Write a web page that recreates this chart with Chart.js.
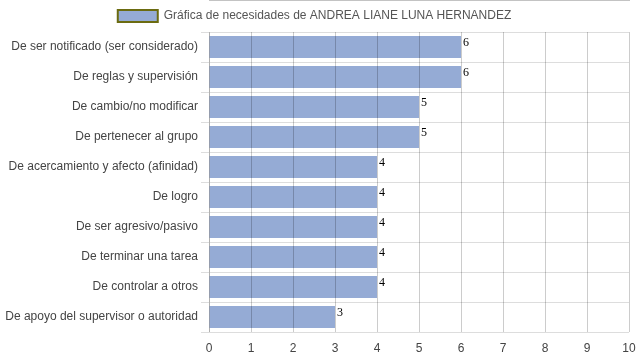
<!DOCTYPE html>
<html>
<head>
<meta charset="utf-8">
<script src="https://cdn.jsdelivr.net/npm/chart.js@4.4.1/dist/chart.umd.min.js"></script>
<style>
  html, body { margin: 0; padding: 0; background: #fff; }
  #wrap { width: 639px; height: 360px; }
</style>
</head>
<body>
<div id="wrap"><canvas id="chart"></canvas></div>
<script>
const categorias = [
  'De ser notificado (ser considerado)',
  'De reglas y supervisión',
  'De cambio/no modificar',
  'De pertenecer al grupo',
  'De acercamiento y afecto (afinidad)',
  'De logro',
  'De ser agresivo/pasivo',
  'De terminar una tarea',
  'De controlar a otros',
  'De apoyo del supervisor o autoridad'
];
const valores = [6, 6, 5, 5, 4, 4, 4, 4, 4, 3];
const ticksX = [0, 1, 2, 3, 4, 5, 6, 7, 8, 9, 10];
const tituloSerie = 'Gráfica de necesidades de ANDREA LIANE LUNA HERNANDEZ';

// etiquetas de valor al final de cada barra
const etiquetas = {
  id: 'etiquetas',
  afterDatasetsDraw(chart) {
    const ctx = chart.ctx;
    const meta = chart.getDatasetMeta(0);
    ctx.save();
    ctx.font = '12px "Liberation Serif", "Times New Roman", serif';
    ctx.fillStyle = '#000';
    ctx.textAlign = 'left';
    ctx.textBaseline = 'top';
    meta.data.forEach((bar, i) => {
      const top = bar.y - bar.height / 2;
      ctx.fillText(String(valores[i]), bar.x + 2, top + 1);
    });
    ctx.restore();
  }
};

new Chart(document.getElementById('chart'), {
  type: 'bar',
  data: {
    labels: categorias,
    datasets: [{
      label: tituloSerie,
      data: valores,
      backgroundColor: '#95abd5',
      borderWidth: 0,
      barPercentage: 0.74,
      categoryPercentage: 1
    }]
  },
  options: {
    indexAxis: 'y',
    responsive: true,
    maintainAspectRatio: false,
    animation: false,
    layout: { padding: { left: 0, right: 10, top: 0, bottom: 0 } },
    plugins: {
      legend: {
        display: true,
        position: 'top',
        labels: {
          boxWidth: 40,
          boxHeight: 12,
          color: '#555',
          font: { family: '"Liberation Sans", Arial, sans-serif', size: 12 },
          padding: 10,
          generateLabels() {
            return [{
              text: tituloSerie,
              fillStyle: '#95abd5',
              strokeStyle: '#6b6b10',
              lineWidth: 2,
              fontColor: '#555',
              datasetIndex: 0
            }];
          }
        }
      },
      tooltip: { enabled: false }
    },
    scales: {
      x: {
        min: 0,
        max: 10,
        afterBuildTicks(scale) { scale.ticks = ticksX.map(v => ({ value: v })); },
        afterFit(scale) {
          scale.height = 28;
          scale.paddingLeft = 0;
          scale.paddingRight = 0;
        },
        grid: { color: 'rgba(0,0,0,0.2)', z: 1, drawTicks: false },
        border: { color: '#888' },
        ticks: {
          color: '#444',
          font: { family: '"Liberation Sans", Arial, sans-serif', size: 12 },
          padding: 9
        }
      },
      y: {
        afterFit(scale) { scale.width = 209; },
        grid: { color: '#ddd', offset: true, drawTicks: true, tickLength: 8 },
        border: { color: '#ddd' },
        ticks: {
          color: '#444',
          font: { family: '"Liberation Sans", Arial, sans-serif', size: 12 },
          padding: 3
        }
      }
    }
  },
  plugins: [etiquetas]
});
</script>
</body>
</html>
